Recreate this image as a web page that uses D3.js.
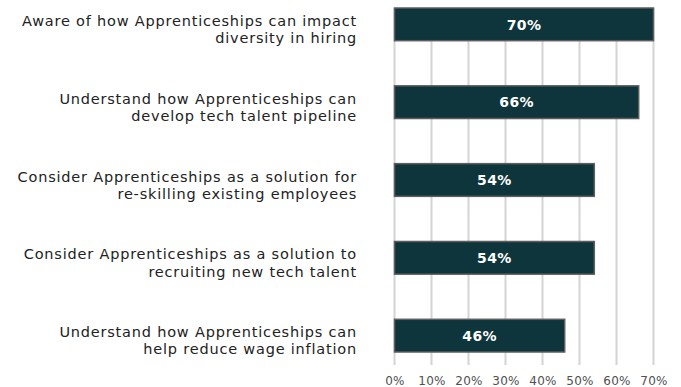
<!DOCTYPE html>
<html>
<head>
<meta charset="utf-8">
<script src="https://cdn.jsdelivr.net/npm/d3@7"></script>
<style>
  html, body { margin: 0; padding: 0; background: #ffffff; }
  svg { display: block; }
</style>
</head>
<body>
<svg id="chart" width="681" height="387"></svg>
<script>
// Survey statements (each split over two lines) and share of respondents
const categories = [
  ["Aware of how Apprenticeships can impact", "diversity in hiring"],
  ["Understand how Apprenticeships can", "develop tech talent pipeline"],
  ["Consider Apprenticeships as a solution for", "re-skilling existing employees"],
  ["Consider Apprenticeships as a solution to", "recruiting new tech talent"],
  ["Understand how Apprenticeships can", "help reduce wage inflation"]
];
const values = [70, 66, 54, 54, 46];
const tickValues = [0, 10, 20, 30, 40, 50, 60, 70];

const svg = d3.select("#chart");
const font = "'DejaVu Sans', 'Noto Sans', sans-serif";

const x = d3.scaleLinear().domain([0, 70]).range([394.5, 653.5]);
const y = d3.scaleBand()
  .domain(d3.range(categories.length))
  .range([8, 352])
  .paddingInner(0.58)
  .paddingOuter(0)
  .align(0);

const gridTop = 8, gridBottom = 365;

// vertical gridlines
svg.append("g")
  .selectAll("line")
  .data(tickValues)
  .join("line")
  .attr("x1", d => x(d)).attr("x2", d => x(d))
  .attr("y1", gridTop).attr("y2", gridBottom)
  .attr("stroke", "#d4d4d4")
  .attr("stroke-width", 2);

// bottom axis labels
const axis = d3.axisBottom(x)
  .tickValues(tickValues)
  .tickFormat(d => d + "%")
  .tickSize(0)
  .tickPadding(0);
const ax = svg.append("g")
  .attr("transform", `translate(0, ${gridBottom + 11})`)
  .call(axis);
ax.select(".domain").remove();
ax.selectAll("text")
  .attr("font-family", font)
  .attr("font-size", 12)
  .attr("letter-spacing", 0.3)
  .attr("fill", "#505050");

// bars
svg.append("g")
  .selectAll("rect")
  .data(values)
  .join("rect")
  .attr("x", x(0))
  .attr("y", (d, i) => y(i))
  .attr("width", d => x(d) - x(0))
  .attr("height", y.bandwidth())
  .attr("fill", "#0e353b")
  .attr("stroke", "#5e5e5e")
  .attr("stroke-width", 1.5);

// value labels inside bars
svg.append("g")
  .selectAll("text")
  .data(values)
  .join("text")
  .attr("x", d => (x(0) + x(d)) / 2)
  .attr("y", (d, i) => y(i) + y.bandwidth() / 2)
  .attr("dy", "0.37em")
  .attr("text-anchor", "middle")
  .attr("font-family", font)
  .attr("font-size", 14)
  .attr("font-weight", "bold")
  .attr("letter-spacing", 0.4)
  .attr("fill", "#ffffff")
  .text(d => d + "%");

// category labels, right-aligned to the left of the bars
const labels = svg.append("g")
  .selectAll("text")
  .data(categories)
  .join("text")
  .attr("text-anchor", "end")
  .attr("font-family", font)
  .attr("font-size", 14.5)
  .attr("letter-spacing", 0.8)
  .attr("fill", "#222222");
labels.each(function (lines, i) {
  const c = y(i) + y.bandwidth() / 2;
  d3.select(this).selectAll("tspan")
    .data(lines)
    .join("tspan")
    .attr("x", 357)
    .attr("y", (d, j) => c + 1.5 + j * 17.3)
    .text(d => d);
});
</script>
</body>
</html>
